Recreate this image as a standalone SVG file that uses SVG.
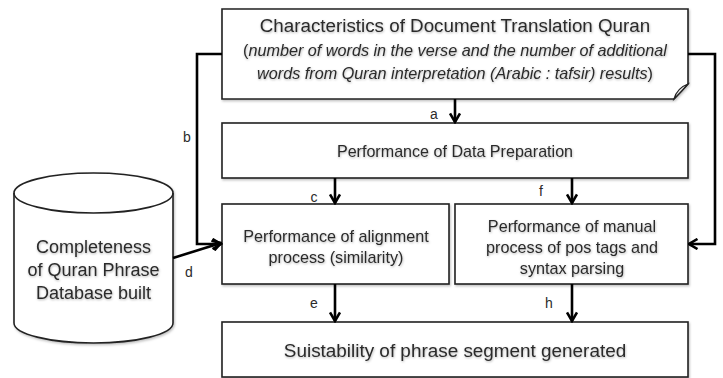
<svg xmlns="http://www.w3.org/2000/svg" width="723" height="378" viewBox="0 0 723 378">
  <defs>
    <filter id="soft" x="-5%" y="-5%" width="110%" height="120%">
      <feDropShadow dx="1" dy="1.5" stdDeviation="1" flood-color="#000" flood-opacity="0.25"/>
    </filter>
    <filter id="tshadow" x="-5%" y="-20%" width="110%" height="150%">
      <feDropShadow dx="0.5" dy="1" stdDeviation="0.8" flood-color="#000" flood-opacity="0.3"/>
    </filter>
    <marker id="chev" viewBox="0 0 12 12" refX="10.5" refY="6" markerWidth="12" markerHeight="12" markerUnits="userSpaceOnUse" orient="auto">
      <polyline points="2,1 10.5,6 2,11" fill="none" stroke="#000" stroke-width="2.6" stroke-linejoin="miter"/>
    </marker>
  </defs>
  <style>
    .box { fill: #fff; stroke: #222; stroke-width: 1.6; filter: url(#soft); }
    .txt { font-family: "Liberation Sans", Arial, sans-serif; fill: #2b2b2b; text-anchor: middle; filter: url(#tshadow); }
    .it { font-style: italic; }
    .lbl { font-family: "Liberation Sans", Arial, sans-serif; fill: #2b2b2b; font-size: 14px; text-anchor: middle; }
    .wire { fill: none; stroke: #000; stroke-width: 2.6; marker-end: url(#chev); }
  </style>

  <rect width="723" height="378" fill="#fff"/>

  <!-- Source document with folded corner -->
  <g id="doc-characteristics">
    <path class="box" d="M222,9 H688 V84 L674,99 H222 Z"/>
    <path d="M674,99 Q677,88 688,84 Q682,91 674,99 Z" fill="#e8e8e8" stroke="#222" stroke-width="1.3"/>
    <text class="txt" x="455" y="32" font-size="18.8">Characteristics of Document Translation Quran</text>
    <text class="txt" x="455" y="56" font-size="16.2">(<tspan class="it">number of words in the verse and the number of additional</tspan></text>
    <text class="txt" x="455" y="79" font-size="16.2"><tspan class="it">words from Quran interpretation (Arabic : tafsir) results</tspan>)</text>
  </g>

  <g id="data-preparation">
    <rect class="box" x="222" y="123" width="466" height="55"/>
    <text class="txt" x="455" y="157" font-size="16.1">Performance of Data Preparation</text>
  </g>

  <g id="alignment">
    <rect class="box" x="222" y="204" width="227" height="80"/>
    <text class="txt" x="336" y="242" font-size="16.2">Performance of alignment</text>
    <text class="txt" x="336" y="263" font-size="16.2">process (similarity)</text>
  </g>

  <g id="manual-tagging">
    <rect class="box" x="455" y="204" width="233" height="80"/>
    <text class="txt" x="572" y="232" font-size="16.2">Performance of manual</text>
    <text class="txt" x="572" y="253" font-size="16.2">process of pos tags and</text>
    <text class="txt" x="572" y="274" font-size="16.2">syntax parsing</text>
  </g>

  <g id="suitability">
    <rect class="box" x="222" y="322" width="466" height="55"/>
    <text class="txt" x="455" y="357" font-size="18.9">Suistability of phrase segment generated</text>
  </g>

  <!-- Phrase database cylinder -->
  <g id="phrase-database">
    <path class="box" d="M14,193 A79.5,20 0 0 1 173,193 V323 A79.5,20 0 0 1 14,323 Z"/>
    <path d="M14,193 A79.5,20 0 0 0 173,193" fill="none" stroke="#222" stroke-width="1.6"/>
    <text class="txt" x="93.5" y="253" font-size="18">Completeness</text>
    <text class="txt" x="93.5" y="276" font-size="18">of Quran Phrase</text>
    <text class="txt" x="93.5" y="299" font-size="18">Database built</text>
  </g>

  <g id="connectors">
    <line class="wire" x1="455" y1="99" x2="455" y2="122"/>
    <path class="wire" d="M222,54 H197 V244 H221"/>
    <path class="wire" d="M688,54 H715 V244 H689"/>
    <line class="wire" x1="173" y1="258" x2="221" y2="243"/>
    <line class="wire" x1="335" y1="178" x2="335" y2="203"/>
    <line class="wire" x1="572" y1="178" x2="572" y2="203"/>
    <line class="wire" x1="335" y1="284" x2="335" y2="321"/>
    <line class="wire" x1="572" y1="284" x2="572" y2="321"/>
    <text class="lbl" x="434" y="119">a</text>
    <text class="lbl" x="187" y="142">b</text>
    <text class="lbl" x="314" y="202">c</text>
    <text class="lbl" x="189" y="277">d</text>
    <text class="lbl" x="314" y="308">e</text>
    <text class="lbl" x="541" y="196">f</text>
    <text class="lbl" x="549" y="308">h</text>
  </g>
</svg>
